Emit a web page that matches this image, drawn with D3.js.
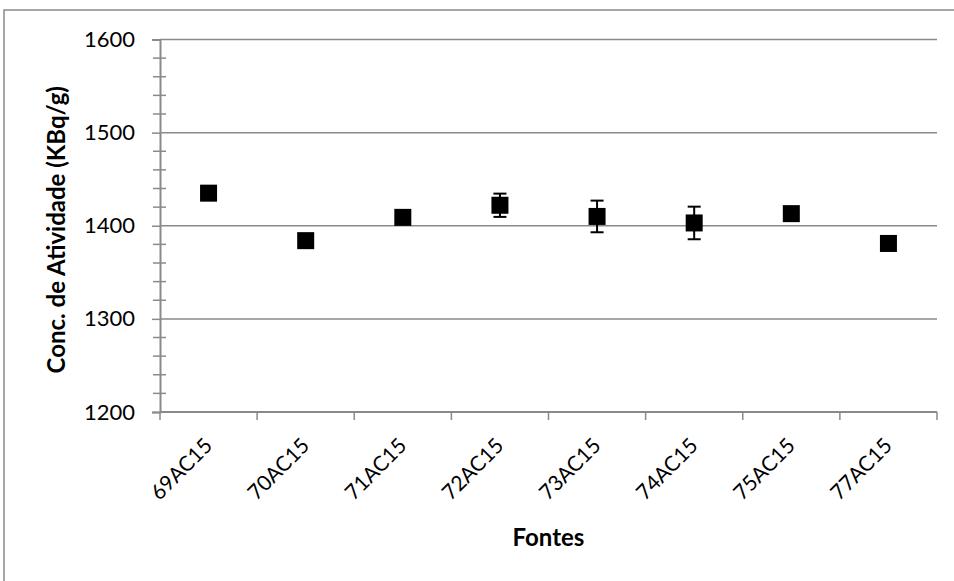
<!DOCTYPE html>
<html>
<head>
<meta charset="utf-8">
<script src="https://cdn.jsdelivr.net/npm/d3@7"></script>
<style>
  html, body { margin: 0; padding: 0; background: #fff; }
  svg { display: block; font-family: Lato, "Open Sans", sans-serif; }
</style>
</head>
<body>
<svg id="chart" width="954" height="581"></svg>
<script>
// Source identifiers and measured activity concentrations
const fontes = ["69AC15", "70AC15", "71AC15", "72AC15", "73AC15", "74AC15", "75AC15", "77AC15"];
const concentracao = [1435, 1384, 1409, 1422, 1410, 1403, 1413, 1381];
const incerteza = [0, 0, 2, 12.5, 17, 17.5, 0, 0];
const yTicks = [1200, 1300, 1400, 1500, 1600];
const yMinorTicks = d3.range(1200, 1601, 20);

const svg = d3.select("#chart");
const plotLeft = 160, plotRight = 937, plotTop = 39.5, plotBottom = 412;
const grey = "#8a8a8a";

// outer chart frame
svg.append("rect")
  .attr("x", 4).attr("y", 10).attr("width", 960).attr("height", 600)
  .attr("fill", "none").attr("stroke", grey).attr("stroke-width", 1.5);

const x = d3.scaleBand().domain(fontes).range([plotLeft, plotRight]).padding(0);
const y = d3.scaleLinear().domain([1200, 1600]).range([plotBottom, plotTop]);

// horizontal gridlines
svg.append("g").selectAll("line").data(yTicks.filter(v => v > 1200)).join("line")
  .attr("x1", plotLeft).attr("x2", plotRight)
  .attr("y1", d => y(d)).attr("y2", d => y(d))
  .attr("stroke", grey).attr("stroke-width", 1.5);

// minor ticks crossing the vertical axis
svg.append("g").selectAll("line").data(yMinorTicks.filter(v => v % 100 !== 0)).join("line")
  .attr("x1", plotLeft - 7).attr("x2", plotLeft + 6)
  .attr("y1", d => y(d)).attr("y2", d => y(d))
  .attr("stroke", grey).attr("stroke-width", 1.5);

// y axis
const yAxis = svg.append("g").attr("transform", `translate(${plotLeft},0)`)
  .call(d3.axisLeft(y).tickValues(yTicks).tickFormat(d3.format("d")).tickSize(8).tickPadding(17));
yAxis.select(".domain").attr("stroke", grey).attr("stroke-width", 2);
yAxis.selectAll(".tick line").attr("stroke", grey).attr("stroke-width", 1.5);
yAxis.selectAll(".tick text").attr("font-size", 22).attr("fill", "#000")
  .attr("font-family", "Lato, sans-serif");

// x axis with ticks at category boundaries
const boundaries = fontes.map(f => x(f)).concat([plotRight]);
svg.append("line").attr("x1", plotLeft).attr("x2", plotRight)
  .attr("y1", plotBottom).attr("y2", plotBottom)
  .attr("stroke", grey).attr("stroke-width", 2);
svg.append("g").selectAll("line").data(boundaries).join("line")
  .attr("x1", d => d).attr("x2", d => d)
  .attr("y1", plotBottom).attr("y2", plotBottom + 8)
  .attr("stroke", grey).attr("stroke-width", 1.5);

// rotated category labels
svg.append("g").selectAll("text").data(fontes).join("text")
  .attr("transform", d => `translate(${x(d) + x.bandwidth() / 2 + 5},${plotBottom + 35}) rotate(-45)`)
  .attr("text-anchor", "end")
  .attr("font-size", 21)
  .attr("fill", "#000")
  .text(d => d);

// error bars
const data = fontes.map((f, i) => ({ f, v: concentracao[i], e: incerteza[i] }));
const eb = svg.append("g").selectAll("g").data(data.filter(d => d.e > 0)).join("g");
eb.append("line")
  .attr("x1", d => x(d.f) + x.bandwidth() / 2).attr("x2", d => x(d.f) + x.bandwidth() / 2)
  .attr("y1", d => y(d.v + d.e)).attr("y2", d => y(d.v - d.e))
  .attr("stroke", "#000").attr("stroke-width", 2);
[1, -1].forEach(s => {
  eb.append("line")
    .attr("x1", d => x(d.f) + x.bandwidth() / 2 - 6.5).attr("x2", d => x(d.f) + x.bandwidth() / 2 + 6.5)
    .attr("y1", d => y(d.v + s * d.e)).attr("y2", d => y(d.v + s * d.e))
    .attr("stroke", "#000").attr("stroke-width", 2);
});

// square markers
const size = 17;
svg.append("g").selectAll("rect").data(data).join("rect")
  .attr("x", d => x(d.f) + x.bandwidth() / 2 - size / 2)
  .attr("y", d => y(d.v) - size / 2)
  .attr("width", size).attr("height", size)
  .attr("fill", "#000");

// axis titles
svg.append("text")
  .attr("transform", `translate(${65},${(plotTop + plotBottom) / 2 + 4}) rotate(-90)`)
  .attr("text-anchor", "middle")
  .attr("font-size", 24).attr("font-weight", "bold").attr("fill", "#000")
  .text("Conc. de Atividade (KBq/g)");

svg.append("text")
  .attr("x", (plotLeft + plotRight) / 2).attr("y", 546)
  .attr("text-anchor", "middle")
  .attr("font-size", 24).attr("font-weight", "bold").attr("fill", "#000")
  .text("Fontes");
</script>
</body>
</html>
